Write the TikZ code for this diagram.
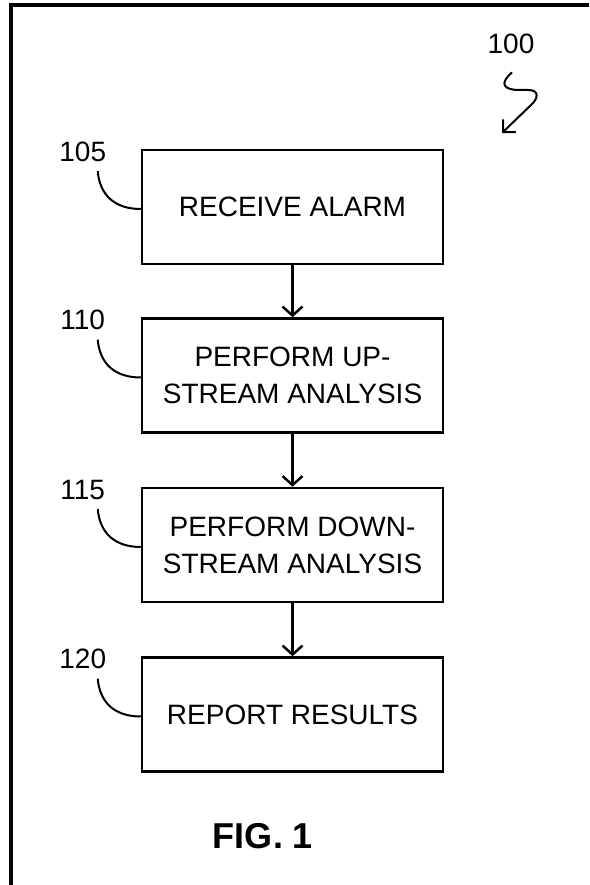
\documentclass[tikz,border=0pt]{standalone}
\usepackage{fontspec}
\setmainfont{Liberation Sans}
\usetikzlibrary{positioning,arrows.meta}

\begin{document}
\begin{tikzpicture}[x=1pt,y=1pt,node distance=52pt]
	\tikzstyle{every node}=[font=\fontsize{28}{37}\selectfont]
	\tikzstyle{stepbox}=[draw,line width=2.5pt,minimum width=301pt,minimum height=114pt,align=center,inner sep=0pt]
	\tikzstyle{flow}=[line width=2.5pt,-{Straight Barb[length=9pt,width=20pt]}]
	\tikzstyle{leader}=[line width=2pt]
	\useasboundingbox (0,0) rectangle (589,885);
	% frame
	\draw[line width=4pt] (11,0) -- (11,880) -- (589,880);
	% steps
	\node[stepbox] (box1) at (292.5,678) {RECEIVE ALARM};
	\node[stepbox,below=of box1] (box2) {PERFORM UP-\\STREAM ANALYSIS};
	\node[stepbox,below=53pt of box2] (box3) {PERFORM DOWN-\\STREAM ANALYSIS};
	\node[stepbox,below=53pt of box3] (box4) {REPORT RESULTS};
	\draw[flow] (box1) -- (box2);
	\draw[flow] (box2) -- (box3);
	\draw[flow] (box3) -- (box4);
	% reference numerals
	\node (n105) at ([xshift=-58pt,yshift=-3pt]box1.north west) {105};
	\node (n110) at ([xshift=-58pt,yshift=-3pt]box2.north west) {110};
	\node (n115) at ([xshift=-58pt,yshift=-3pt]box3.north west) {115};
	\node (n120) at ([xshift=-58pt,yshift=-3pt]box4.north west) {120};
	\draw[leader] ([xshift=15pt,yshift=-6pt]n105.south) .. controls +(2,-24) and +(-26,0) .. ([yshift=-2pt]box1.west);
	\draw[leader] ([xshift=15pt,yshift=-6pt]n110.south) .. controls +(2,-24) and +(-26,0) .. ([yshift=-2pt]box2.west);
	\draw[leader] ([xshift=15pt,yshift=-6pt]n115.south) .. controls +(2,-24) and +(-26,0) .. ([yshift=-2pt]box3.west);
	\draw[leader] ([xshift=15pt,yshift=-6pt]n120.south) .. controls +(2,-24) and +(-26,0) .. ([yshift=-2pt]box4.west);
	% figure numeral
	\node (n100) at (511,841) {100};
	\coordinate (tip100) at (502,752);
	\draw[leader,-{Straight Barb[length=9pt,width=18pt]}] ([xshift=1pt,yshift=-15pt]n100.south) .. controls +(-14,-12) and +(-14,0) .. (519,795) -- (528,795) .. controls (540,795) and (538,786) .. (531,780) -- (tip100);
	\node[font=\fontsize{36}{40}\selectfont\bfseries] (fig) at (263,49) {FIG. 1};
\end{tikzpicture}
\end{document}
